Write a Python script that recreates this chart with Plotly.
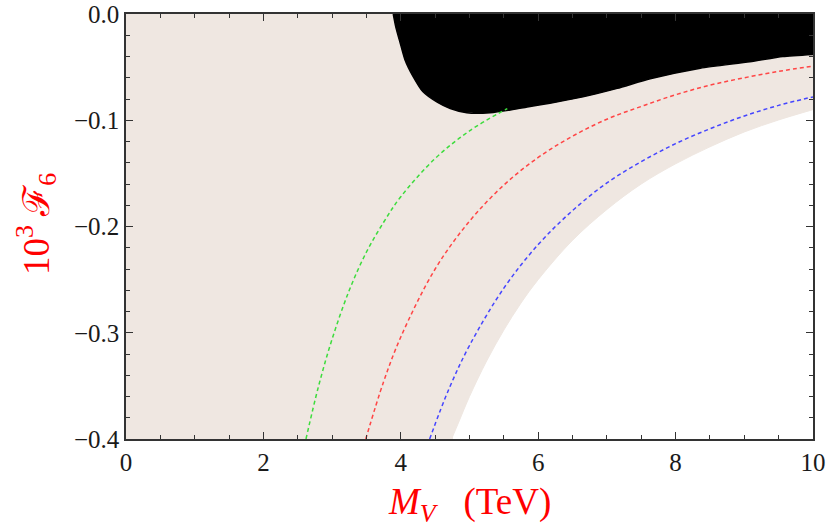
import plotly.graph_objects as go

# Allowed-region (light) lower boundary
allowed_x = [4.74, 4.85, 5.0, 5.25, 5.5, 5.75, 6.0, 6.5, 7.0, 7.5, 8.0, 8.5, 9.0, 9.5, 10.0]
allowed_y = [-0.400, -0.383, -0.360, -0.3265, -0.2975, -0.272, -0.250, -0.213, -0.184, -0.160, -0.141, -0.125, -0.111, -0.0997, -0.090]

# Excluded (black) region lower boundary
black_x = [3.89, 3.93, 3.99, 4.06, 4.18, 4.32, 4.53, 4.72, 4.96, 5.30, 5.63, 5.84, 6.17, 6.65, 7.15, 7.63, 8.36, 9.08, 9.56, 10.0]
black_y = [0.0, -0.013, -0.027, -0.043, -0.059, -0.073, -0.083, -0.089, -0.093, -0.093, -0.090, -0.0875, -0.084, -0.078, -0.070, -0.061, -0.051, -0.045, -0.040, -0.038]

# Dashed curves
green_x = [2.62, 2.8, 3.0, 3.25, 3.5, 3.75, 4.0, 4.5, 5.0, 5.55]
green_y = [-0.400, -0.351, -0.306, -0.260, -0.224, -0.196, -0.172, -0.136, -0.110, -0.089]
red_x = [3.49, 3.75, 4.0, 4.5, 5.0, 5.5, 6.0, 6.5, 7.0, 7.5, 8.0, 8.5, 9.0, 9.5, 10.0]
red_y = [-0.400, -0.346, -0.304, -0.240, -0.195, -0.161, -0.135, -0.115, -0.099, -0.087, -0.076, -0.067, -0.060, -0.054, -0.049]
blue_x = [4.42, 4.7, 5.0, 5.5, 6.0, 6.5, 7.0, 7.5, 8.0, 8.5, 9.0, 9.5, 10.0]
blue_y = [-0.400, -0.353, -0.312, -0.258, -0.217, -0.185, -0.159, -0.139, -0.122, -0.108, -0.096, -0.086, -0.078]

x_ticks = [0, 2, 4, 6, 8, 10]
y_ticks = [0.0, -0.1, -0.2, -0.3, -0.4]

LIGHT = "#EFE7E1"
fig = go.Figure()

# light allowed region: full-height block left of the boundary, then area above the curve
fig.add_trace(go.Scatter(x=[0, allowed_x[0] + 0.02], y=[-0.4, -0.4], fill="tozeroy", fillcolor=LIGHT,
                         mode="none", hoverinfo="skip", showlegend=False))
fig.add_trace(go.Scatter(x=allowed_x, y=allowed_y, fill="tozeroy", fillcolor=LIGHT,
                         mode="lines", line=dict(color=LIGHT, width=1, shape="spline"),
                         hoverinfo="skip", showlegend=False))

# black excluded region
fig.add_trace(go.Scatter(x=black_x, y=black_y, fill="tozeroy", fillcolor="black",
                         mode="lines", line=dict(color="black", width=1.5, shape="spline", smoothing=0.6),
                         hoverinfo="skip", showlegend=False))

dash = "4px,3px"
fig.add_trace(go.Scatter(x=green_x, y=green_y, mode="lines",
                         line=dict(color="#3DDC3D", width=1.5, dash=dash, shape="spline"), showlegend=False))
fig.add_trace(go.Scatter(x=red_x, y=red_y, mode="lines",
                         line=dict(color="#FF4545", width=1.5, dash=dash, shape="spline"), showlegend=False))
fig.add_trace(go.Scatter(x=blue_x, y=blue_y, mode="lines",
                         line=dict(color="#4545FF", width=1.5, dash=dash, shape="spline"), showlegend=False))

tickfont = dict(family="Liberation Serif", size=25, color="#1a1a1a")
axcommon = dict(showgrid=False, zeroline=False, showline=True, linecolor="#333333", linewidth=1.5,
                mirror="allticks", ticks="inside", ticklen=7, tickwidth=1.2, tickcolor="#333333",
                tickfont=tickfont, automargin=False, layer="above traces")

fig.update_xaxes(range=[0, 10], tickvals=x_ticks, ticktext=[str(v) for v in x_ticks],
                 minor=dict(dtick=0.5, tick0=0, ticks="inside", ticklen=4, tickcolor="#333333", tickwidth=1),
                 **axcommon)
fig.update_yaxes(range=[-0.4, 0.0], tickvals=y_ticks, tickformat=".1f",
                 minor=dict(dtick=0.02, tick0=0, ticks="inside", ticklen=4, tickcolor="#333333", tickwidth=1),
                 **axcommon)

titlefont = dict(family="Liberation Serif", size=37, color="#FF0000")
fig.add_annotation(text="<i>M</i><sub><i>V</i></sub>&nbsp;&nbsp;&nbsp;(TeV)", xref="paper", yref="paper",
                   x=0.5, y=0, yanchor="middle", yshift=-65, showarrow=False, font=titlefont)
fig.add_annotation(text="10<sup>3</sup> ℱ<sub>6</sub>", xref="paper", yref="paper",
                   x=0, y=0.506, xanchor="center", yanchor="middle", xshift=-90, textangle=-90,
                   showarrow=False, font=titlefont)

fig.update_layout(width=827, height=527, margin=dict(l=126, r=14, t=14, b=88),
                  paper_bgcolor="white", plot_bgcolor="white")

fig.write_html("out.html", config={"displayModeBar": False},
               post_script="document.body.style.margin='0';document.body.style.padding='0';")
